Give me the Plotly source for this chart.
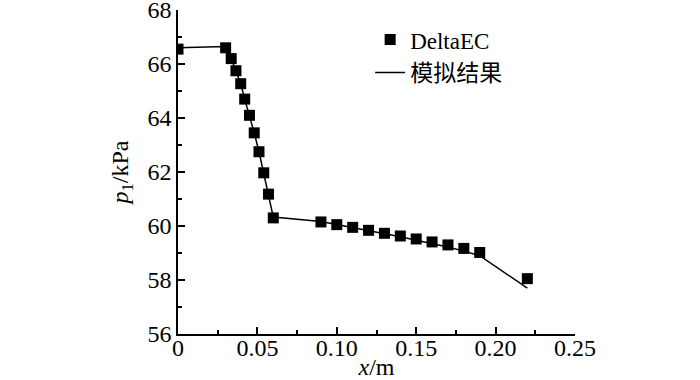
import plotly.graph_objects as go

# DeltaEC data points
x_delta = [0, 0.03, 0.0335, 0.0365, 0.0395, 0.042, 0.045, 0.048, 0.051, 0.054, 0.057, 0.060,
           0.09, 0.10, 0.11, 0.12, 0.13, 0.14, 0.15, 0.16, 0.17, 0.18, 0.19, 0.22]
p_delta = [66.55, 66.6, 66.2, 65.75, 65.27, 64.7, 64.1, 63.45, 62.75, 61.97, 61.18, 60.3,
           60.15, 60.05, 59.95, 59.84, 59.73, 59.63, 59.52, 59.41, 59.3, 59.17, 59.02, 58.05]

# Simulation result line
x_sim = [0, 0.03, 0.0335, 0.0365, 0.0395, 0.042, 0.045, 0.048, 0.051, 0.054, 0.057, 0.060,
         0.09, 0.10, 0.11, 0.12, 0.13, 0.14, 0.15, 0.16, 0.17, 0.18, 0.19, 0.22]
p_sim = [66.6, 66.65, 66.2, 65.75, 65.27, 64.7, 64.1, 63.45, 62.75, 61.97, 61.18, 60.33,
         60.17, 60.06, 59.95, 59.83, 59.71, 59.6, 59.47, 59.35, 59.22, 59.07, 58.9, 57.7]

x_ticks = [0, 0.05, 0.10, 0.15, 0.20, 0.25]
x_ticktext = ["0", "0.05", "0.10", "0.15", "0.20", "0.25"]
y_ticks = [56, 58, 60, 62, 64, 66, 68]

FONT = "Liberation Serif, Times New Roman, Noto Sans CJK SC, serif"

fig = go.Figure()
fig.add_trace(go.Scatter(
    x=x_delta, y=p_delta, mode="markers", name="DeltaEC",
    marker=dict(symbol="square", size=11, color="black", line=dict(width=0)),
))
fig.add_trace(go.Scatter(
    x=x_sim, y=p_sim, mode="lines", name="模拟结果",
    line=dict(color="black", width=1.5),
))

axis_common = dict(
    showline=True, linecolor="black", linewidth=1.5, mirror=False,
    ticks="inside", ticklen=7, tickwidth=1.5, tickcolor="black",
    showgrid=False, zeroline=False, automargin=False,
    ticklabeloverflow="allow",
    tickfont=dict(family=FONT, size=24, color="black"),
)

fig.update_layout(
    width=700, height=380,
    margin=dict(l=178, r=125, t=10, b=46),
    paper_bgcolor="white", plot_bgcolor="white",
    font=dict(family=FONT, size=24, color="black"),
    showlegend=True,
    legend=dict(
        x=0.484, y=0.975, xanchor="left", yanchor="top",
        bgcolor="rgba(0,0,0,0)", borderwidth=0,
        font=dict(family=FONT, size=23, color="black"),
        tracegroupgap=0, itemwidth=30,
    ),
    xaxis=dict(
        range=[0, 0.25], tickvals=x_ticks, ticktext=x_ticktext,
        ticklabelstandoff=-9,
        minor=dict(ticks="inside", dtick=0.025, tick0=0, ticklen=4, tickwidth=1.5, tickcolor="black"),
        title=dict(text="<i>x</i>/m", standoff=2, font=dict(family=FONT, size=24)),
        **axis_common,
    ),
    yaxis=dict(
        range=[56, 68], tickvals=y_ticks,
        minor=dict(ticks="inside", dtick=1, tick0=56, ticklen=4, tickwidth=1.5, tickcolor="black"),
        title=dict(text="<i>p</i><sub>1</sub>/kPa", standoff=12, font=dict(family=FONT, size=24)),
        **axis_common,
    ),
)

fig.write_html("out.html", config={"displayModeBar": False},
               post_script="document.body.style.margin='0';")
